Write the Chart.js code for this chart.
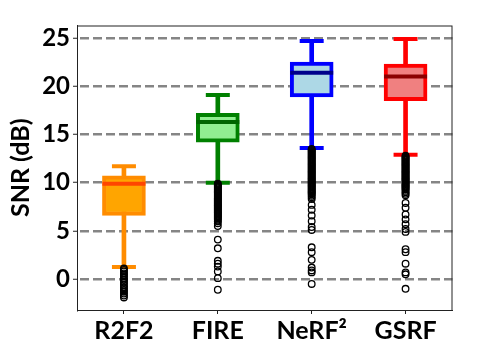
<!DOCTYPE html>
<html>
<head>
<meta charset="utf-8">
<script src="https://cdn.jsdelivr.net/npm/chart.js@4.4.1/dist/chart.umd.min.js"></script>
<style>
  html, body { margin: 0; padding: 0; background: #fff; }
  #wrap { width: 478px; height: 359px; }
</style>
</head>
<body>
<div id="wrap"><canvas id="myChart"></canvas></div>
<script>
// box plot values (dB)
var categories = ['R2F2', 'FIRE', 'NeRF\u00B2', 'GSRF'];
var whiskerLow = [1.25, 10.0, 13.6, 12.9];
var q1 = [6.6, 14.2, 18.9, 18.5];
var median = [9.9, 16.3, 21.4, 21.0];
var q3 = [10.7, 17.2, 22.5, 22.3];
var whiskerHigh = [11.7, 19.1, 24.7, 24.9];
var yTicks = [0, 5, 10, 15, 20, 25];

// outliers (dense runs just below the lower whisker, then the sparse ones)
var outR2F2 = [1.1, 0.95, 0.8, 0.6, 0.45, 0.3, 0.1, -0.05, -0.25, -0.4, -0.6, -0.8, -0.95, -1.15,
    -1.3, -1.5, -1.7, -1.9];
var outFIRE = [9.9, 9.8, 9.7, 9.6, 9.5, 9.4, 9.3, 9.2, 9.1, 9.0, 8.9, 8.8, 8.7, 8.6, 8.5, 8.4, 8.3,
    8.2, 8.1, 8.0, 7.9, 7.8, 7.7, 7.6, 7.5, 7.4, 7.3, 7.2, 7.1, 7.0, 6.9, 6.8, 6.7, 6.6, 6.5, 6.4,
    6.3, 6.15, 6.0, 5.8, 5.5, 4.1, 3.2, 1.9, 1.6, 1.3, 0.8, 0.1, -1.1];
var outNeRF = [13.5, 13.4, 13.3, 13.2, 13.1, 13.0, 12.9, 12.8, 12.7, 12.6, 12.5, 12.4, 12.3, 12.2,
    12.1, 12.0, 11.9, 11.8, 11.7, 11.6, 11.5, 11.4, 11.3, 11.2, 11.1, 11.0, 10.9, 10.8, 10.7, 10.6,
    10.5, 10.4, 10.3, 10.2, 10.1, 10.0, 9.9, 9.8, 9.7, 9.6, 9.5, 9.4, 9.3, 9.2, 9.1, 9.0, 8.9,
    8.8, 8.65, 8.5, 8.3, 7.7, 7.2, 6.6, 6.0, 5.4, 5.1, 3.3, 2.8, 2.0, 1.2, 0.9, 0.7, -0.5];
var outGSRF = [12.8, 12.7, 12.6, 12.5, 12.4, 12.3, 12.2, 12.1, 12.0, 11.9, 11.8, 11.7, 11.6, 11.5,
    11.4, 11.3, 11.2, 11.1, 11.0, 10.9, 10.8, 10.7, 10.6, 10.5, 10.4, 10.3, 10.2, 10.1, 10.0, 9.9,
    9.8, 9.7, 9.6, 9.5, 9.4, 9.3, 9.15, 9.0, 8.85, 8.7, 7.9, 7.4, 6.7, 6.2, 5.7, 5.2, 4.9, 3.1,
    2.8, 1.6, 0.7, 0.5, -1.0];

var edgeColors = ['#FF8C00', '#008000', '#0000FF', '#FF0000'];
var fillColors = ['#FFA500', '#90EE90', '#ADD8E6', '#F08080'];
var medianColors = ['#FF4500', '#006400', '#00008B', '#8B0000'];

var outlierPoints = [];
[outR2F2, outFIRE, outNeRF, outGSRF].forEach(function (arr, i) {
    arr.forEach(function (v) {
        outlierPoints.push({x: categories[i], y: v});
    });
});

var frame = {
    id: 'frame',
    afterDatasetsDraw: function (chart) {
        var a = chart.chartArea, ctx = chart.ctx;
        ctx.save();
        ctx.strokeStyle = '#222';
        ctx.lineWidth = 1;
        ctx.setLineDash([]);
        ctx.strokeRect(a.left + 0.5, a.top + 0.5, a.right - a.left - 1, a.bottom - a.top);
        ctx.restore();
    }
};

var ctx = document.getElementById('myChart').getContext('2d');
var myChart = new Chart(ctx, {
    type: 'bar',
    data: {
        labels: categories,
        datasets: [
            {
                type: 'line', label: 'outliers', data: outlierPoints, showLine: false,
                pointRadius: 3.3, pointBorderWidth: 1.3, pointBorderColor: '#000',
                pointBackgroundColor: 'rgba(0,0,0,0)'
            },
            {
                type: 'line', label: 'median', data: median, showLine: false,
                pointStyle: 'line', pointRadius: 21.5, pointBorderWidth: 4,
                pointBorderColor: medianColors
            },
            {
                type: 'line', label: 'capLow', data: whiskerLow, showLine: false,
                pointStyle: 'line', pointRadius: 12, pointBorderWidth: 4,
                pointBorderColor: edgeColors
            },
            {
                type: 'line', label: 'capHigh', data: whiskerHigh, showLine: false,
                pointStyle: 'line', pointRadius: 12, pointBorderWidth: 4,
                pointBorderColor: edgeColors
            },
            {
                label: 'box', data: q1.map(function (v, i) { return [v, q3[i]]; }),
                backgroundColor: fillColors, borderColor: edgeColors, borderWidth: 4,
                borderSkipped: false, barThickness: 43, grouped: false
            },
            {
                label: 'whisker', data: whiskerLow.map(function (v, i) { return [v, whiskerHigh[i]]; }),
                backgroundColor: edgeColors, borderWidth: 0, barThickness: 4, grouped: false
            }
        ]
    },
    options: {
        responsive: true,
        maintainAspectRatio: false,
        animation: false,
        events: [],
        layout: {padding: {top: 11, right: 12, left: 0, bottom: 0}},
        plugins: {
            legend: {display: false},
            tooltip: {enabled: false}
        },
        scales: {
            x: {
                afterFit: function (s) { s.height = 49; },
                grid: {display: true, drawOnChartArea: false, offset: false, tickLength: 4, tickColor: '#222'},
                border: {color: '#222', width: 1},
                ticks: {color: '#000', font: {family: 'Lato', size: 25, weight: 'bold'}, padding: 2}
            },
            y: {
                min: -3.2,
                max: 26.3,
                afterFit: function (s) { s.width = 77; },
                afterBuildTicks: function (s) {
                    s.ticks = yTicks.map(function (v) { return {value: v}; });
                },
                grid: {color: '#858585', lineWidth: 2.5, tickLength: 4,
                    tickColor: '#222', tickBorderDash: [], tickWidth: 1},
                border: {color: '#222', width: 1, dash: [9, 4], dashOffset: 11},
                ticks: {color: '#000', font: {family: 'Lato', size: 24, weight: 'bold'}, padding: 3},
                title: {display: true, text: 'SNR (dB)', color: '#000',
                    font: {family: 'Lato', size: 25, weight: 'bold'}, padding: {top: 6, bottom: 0}}
            }
        }
    },
    plugins: [frame]
});
</script>
</body>
</html>
